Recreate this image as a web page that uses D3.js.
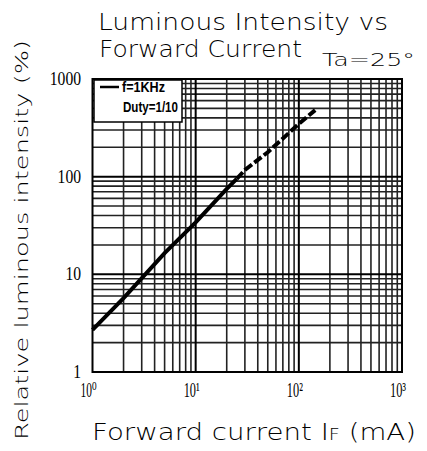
<!DOCTYPE html>
<html>
<head>
<meta charset="utf-8">
<script src="https://cdn.jsdelivr.net/npm/d3@7"></script>
<style>
  html, body { margin: 0; padding: 0; background: #fff; }
  svg { display: block; }
</style>
</head>
<body>
<svg id="chart" width="427" height="451"></svg>
<script>
// ---- data ----
const solidCurrent = [1, 2, 5, 10, 20, 25];
const solidIntensity = [2.7, 5.7, 16.5, 34, 75, 95];
const dashCurrent = [25, 30, 50, 100, 144];
const dashIntensity = [95, 117, 178, 347, 480];
const yTickValues = [1, 10, 100, 1000];
const yTickLabels = ["1", "10", "100", "1000"];
const xTickValues = [1, 10, 100, 1000];
const xTickLabels = ["10\u2070", "10\u00B9", "10\u00B2", "10\u00B3"];
const titleLines = ["Luminous Intensity vs", "Forward Current"];
const legendLines = ["f=1KHz", "Duty=1/10"];

const svg = d3.select("#chart");
const L = 92.5, R = 402, T = 79, B = 372;
const x = d3.scaleLog().domain([1, 1000]).range([L, R]);
const y = d3.scaleLog().domain([1, 1000]).range([B, T]);

// minor grid values
const minor = [];
[1, 10, 100].forEach(d => { for (let k = 2; k <= 9; k++) minor.push(d * k); });

const grid = svg.append("g");
grid.selectAll("line.vx").data(minor).join("line")
  .attr("x1", d => x(d)).attr("x2", d => x(d)).attr("y1", T).attr("y2", B)
  .attr("stroke", "#222").attr("stroke-width", 1.6);
grid.selectAll("line.hy").data(minor).join("line")
  .attr("y1", d => y(d)).attr("y2", d => y(d)).attr("x1", L).attr("x2", R)
  .attr("stroke", "#222").attr("stroke-width", 1.6);
grid.selectAll("line.vmaj").data([10, 100]).join("line")
  .attr("x1", d => x(d)).attr("x2", d => x(d)).attr("y1", T).attr("y2", B)
  .attr("stroke", "#000").attr("stroke-width", 2);
grid.selectAll("line.hmaj").data([10, 100]).join("line")
  .attr("y1", d => y(d)).attr("y2", d => y(d)).attr("x1", L).attr("x2", R)
  .attr("stroke", "#000").attr("stroke-width", 2);

// frame
svg.append("rect").attr("x", L).attr("y", T).attr("width", R - L).attr("height", B - T)
  .attr("fill", "none").attr("stroke", "#000").attr("stroke-width", 2);

// legend
const lg = svg.append("g");
lg.append("rect").attr("x", 94).attr("y", 80).attr("width", 88).attr("height", 42)
  .attr("fill", "#fff").attr("stroke", "#000").attr("stroke-width", 1.5);
lg.append("line").attr("x1", 100).attr("x2", 119).attr("y1", 87).attr("y2", 87)
  .attr("stroke", "#000").attr("stroke-width", 2.5);
lg.selectAll("text").data(legendLines).join("text")
  .attr("x", (d, i) => i === 0 ? 122 : 123)
  .attr("y", (d, i) => i === 0 ? 92 : 112)
  .attr("textLength", (d, i) => i === 0 ? 43 : 55)
  .attr("lengthAdjust", "spacingAndGlyphs")
  .attr("font-family", "Liberation Sans Narrow, Liberation Sans, sans-serif").attr("font-weight", "bold")
  .attr("font-size", 14).text(d => d);

// data line
const line = d3.line().x(d => x(d[0])).y(d => y(d[1]));
svg.append("path").datum(solidCurrent.map((c, i) => [c, solidIntensity[i]]))
  .attr("d", line).attr("fill", "none").attr("stroke", "#000").attr("stroke-width", 4);
svg.append("path").datum(dashCurrent.map((c, i) => [c, dashIntensity[i]]))
  .attr("d", line).attr("fill", "none").attr("stroke", "#000").attr("stroke-width", 4)
  .attr("stroke-dasharray", "9,3");

// y tick labels
svg.selectAll("text.yt").data(yTickValues).join("text")
  .attr("x", 81).attr("y", d => y(d) + 6)
  .attr("text-anchor", "end")
  .attr("font-family", "Liberation Serif, serif").attr("font-size", 19)
  .attr("textLength", (d, i) => yTickLabels[i].length * 7.8)
  .attr("lengthAdjust", "spacingAndGlyphs")
  .text((d, i) => yTickLabels[i]);

// x tick labels
svg.selectAll("text.xt").data(xTickValues).join("text")
  .attr("x", d => x(d) - 12).attr("y", 397)
  .attr("font-family", "Liberation Serif, DejaVu Serif, serif").attr("font-size", 21)
  .attr("textLength", 16).attr("lengthAdjust", "spacingAndGlyphs")
  .text((d, i) => xTickLabels[i]);

// title
const tfont = "DejaVu Sans, sans-serif";
svg.append("text").attr("x", 98).attr("y", 30).attr("font-family", tfont)
  .attr("font-weight", 200).attr("font-size", 23)
  .attr("textLength", 290).attr("lengthAdjust", "spacingAndGlyphs").text(titleLines[0]);
svg.append("text").attr("x", 99).attr("y", 57).attr("font-family", tfont)
  .attr("font-weight", 200).attr("font-size", 23)
  .attr("textLength", 203).attr("lengthAdjust", "spacingAndGlyphs").text(titleLines[1]);
svg.append("text").attr("x", 322).attr("y", 66).attr("font-family", tfont)
  .attr("font-weight", 200).attr("font-size", 17)
  .attr("textLength", 93).attr("lengthAdjust", "spacingAndGlyphs").text("Ta=25°");

// y axis label
svg.append("text").attr("transform", "translate(28,240) rotate(-90)")
  .attr("text-anchor", "middle").attr("font-family", tfont)
  .attr("font-weight", 200).attr("font-size", 18)
  .attr("textLength", 400).attr("lengthAdjust", "spacingAndGlyphs")
  .text("Relative luminous intensity (%)");

// x axis label
const xl = svg.append("text").attr("x", 92).attr("y", 440).attr("font-family", tfont)
  .attr("font-weight", 200).attr("font-size", 23)
  .attr("textLength", 324).attr("lengthAdjust", "spacingAndGlyphs");
xl.append("tspan").text("Forward current I");
xl.append("tspan").attr("font-size", 16).text("F");
xl.append("tspan").text(" (mA)");
</script>
</body>
</html>
